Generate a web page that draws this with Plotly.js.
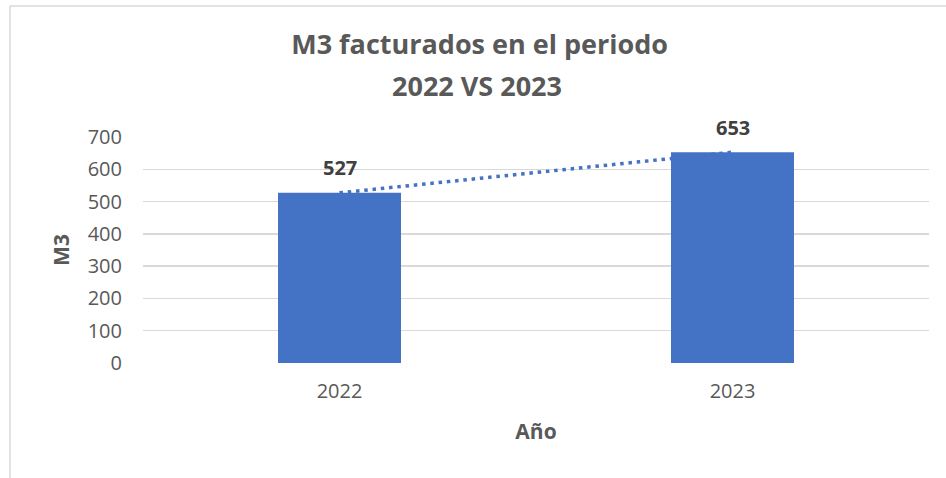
<!DOCTYPE html>
<html>
<head>
<meta charset="utf-8">
<script src="https://cdn.plot.ly/plotly-3.0.1.min.js"></script>
<style>
html,body{margin:0;padding:0;background:#fff;}
#chart{width:946px;height:478px;}
</style>
</head>
<body>
<div id="chart"></div>
<script>
const categories = ["2022", "2023"];
const values = [527, 653];
const yTicks = [0, 100, 200, 300, 400, 500, 600, 700];
const titleLines = ["M3 facturados en el periodo", "2022 VS 2023"];

const FONT = "Open Sans, Liberation Sans, sans-serif";
const GRAY = "#595959";
const BLUE = "#4472C4";

const bars = {
  type: "bar",
  x: categories,
  y: values,
  marker: {color: BLUE},
  hoverinfo: "skip",
  showlegend: false
};

const trend = {
  type: "scatter",
  mode: "lines",
  x: categories,
  y: values,
  line: {color: BLUE, width: 3.5, dash: "3.5px,4.8px"},
  hoverinfo: "skip",
  showlegend: false
};

const labels = categories.map((c, i) => ({
  x: i, y: values[i], xref: "x", yref: "y",
  text: "<b>" + values[i] + "</b>",
  showarrow: false, yshift: 25,
  font: {family: FONT, size: 20, color: "#404040"}
}));

labels.push({
  xref: "paper", yref: "paper",
  x: (477 - 143) / 786, y: (363 - 85) / 226,
  xanchor: "center", yanchor: "middle",
  text: "<b>" + titleLines[1] + "</b>",
  showarrow: false,
  font: {family: FONT, size: 27, color: GRAY}
});

const layout = {
  width: 946, height: 478,
  margin: {l: 143, r: 17, t: 137, b: 115},
  paper_bgcolor: "#ffffff",
  plot_bgcolor: "#ffffff",
  bargap: 0.687,
  font: {family: FONT, color: GRAY},
  title: {
    text: "<b>" + titleLines[0] + "</b>",
    font: {family: FONT, size: 27, color: GRAY},
    x: 0.507, xanchor: "center",
    yref: "container", y: 1 - 45/478, yanchor: "middle"
  },
  xaxis: {
    type: "category",
    range: [-0.5, 1.5],
    showgrid: false,
    zeroline: false,
    showline: false,
    ticks: "",
    ticklabelstandoff: 14,
    tickfont: {family: FONT, size: 20, color: GRAY},
    title: {text: "<b>Año</b>", font: {family: FONT, size: 21, color: GRAY}, standoff: 21}
  },
  yaxis: {
    range: [0, 700],
    tickvals: yTicks,
    ticktext: yTicks.map(String),
    showgrid: true,
    gridcolor: "#D9D9D9",
    gridwidth: 1.3,
    zeroline: false,
    showline: false,
    ticks: "",
    ticklabelstandoff: 20,
    tickfont: {family: FONT, size: 20, color: GRAY},
    title: {text: "<b>M3</b>", font: {family: FONT, size: 21, color: GRAY}, standoff: 12}
  },
  annotations: labels,
  shapes: [{
    type: "rect", xref: "paper", yref: "paper",
    x0: (10 - 143) / 786, x1: (960 - 143) / 786,
    y0: (363 - 490) / 226, y1: (363 - 6) / 226,
    line: {color: "#D9D9D9", width: 1.5},
    fillcolor: "rgba(0,0,0,0)",
    layer: "below"
  }]
};

Plotly.newPlot("chart", [bars, trend], layout, {displayModeBar: false, staticPlot: true});
</script>
</body>
</html>
